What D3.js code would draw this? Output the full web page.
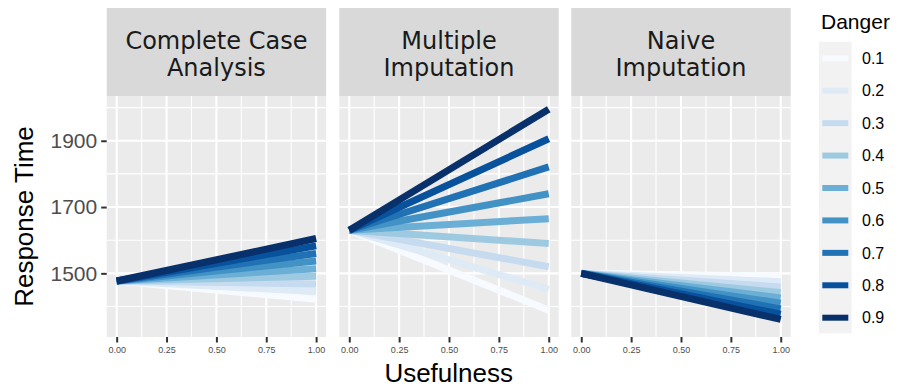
<!DOCTYPE html>
<html>
<head>
<meta charset="utf-8">
<script src="https://cdn.jsdelivr.net/npm/d3@7"></script>
<style>
  html, body { margin: 0; padding: 0; background: #ffffff; }
  svg { display: block; }
</style>
</head>
<body>
<svg id="chart" width="899" height="389"></svg>
<script>
// ---- data ----
const panels = ["Complete Case\nAnalysis", "Multiple\nImputation", "Naive\nImputation"];
const dangerLevels = ["0.1", "0.2", "0.3", "0.4", "0.5", "0.6", "0.7", "0.8", "0.9"];
const colors = ["#f7fbff", "#deebf7", "#c6dbef", "#9ecae1", "#6baed6", "#4292c6", "#2171b5", "#08519c", "#08306b"];
// response time at usefulness = 0 and usefulness = 1, per danger level
const ccaStart = [1477, 1477, 1477, 1477, 1477, 1477, 1477, 1477, 1477];
const ccaEnd   = [1422, 1445, 1468, 1491, 1514, 1537, 1560, 1583, 1605];
const miStart  = [1630, 1630, 1630, 1630, 1630, 1630, 1630, 1630, 1630];
const miEnd    = [1389, 1452, 1520, 1590, 1665, 1740, 1821, 1906, 1995];
const niStart  = [1500, 1500, 1500, 1500, 1500, 1500, 1500, 1500, 1500];
const niEnd    = [1491, 1475, 1459, 1442, 1426, 1410, 1393, 1377, 1361];
const usefulness = [0, 1];
const xTicks = [0, 0.25, 0.5, 0.75, 1];
const xMinor = [0.125, 0.375, 0.625, 0.875];
const yTicks = [1500, 1700, 1900];
const yMinor = [1400, 1600, 1800, 2000];

const series = [
  [ccaStart, ccaEnd],
  [miStart, miEnd],
  [niStart, niEnd]
];

// ---- layout ----
const svg = d3.select("#chart");
const panelLefts = [106.7, 339.3, 571.3];
const panelW = 219.4;
const stripTop = 8, stripBottom = 96, panelBottom = 337;

const y = d3.scaleLinear().domain([1308, 2035]).range([panelBottom, stripBottom]);
const line = d3.line();

panels.forEach((title, pi) => {
  const x0 = panelLefts[pi];
  const x = d3.scaleLinear().domain([-0.05, 1.05]).range([x0, x0 + panelW]);
  const g = svg.append("g");

  // strip
  g.append("rect").attr("x", x0).attr("y", stripTop).attr("width", panelW)
    .attr("height", stripBottom - stripTop).attr("fill", "#d9d9d9");
  title.split("\n").forEach((t, i) => {
    g.append("text").attr("x", x0 + panelW / 2).attr("y", 49 + i * 26.7)
      .attr("text-anchor", "middle").attr("font-family", "DejaVu Sans")
      .attr("font-size", 24).attr("fill", "#1a1a1a").text(t);
  });

  // panel background
  g.append("rect").attr("x", x0).attr("y", stripBottom).attr("width", panelW)
    .attr("height", panelBottom - stripBottom).attr("fill", "#ebebeb");

  // grid
  g.selectAll(".xminor").data(xMinor).join("line")
    .attr("x1", d => x(d)).attr("x2", d => x(d))
    .attr("y1", stripBottom).attr("y2", panelBottom)
    .attr("stroke", "#fff").attr("stroke-width", 1.1);
  g.selectAll(".yminor").data(yMinor).join("line")
    .attr("x1", x0).attr("x2", x0 + panelW)
    .attr("y1", d => y(d)).attr("y2", d => y(d))
    .attr("stroke", "#fff").attr("stroke-width", 1.1);
  g.selectAll(".xmajor").data(xTicks).join("line")
    .attr("x1", d => x(d)).attr("x2", d => x(d))
    .attr("y1", stripBottom).attr("y2", panelBottom)
    .attr("stroke", "#fff").attr("stroke-width", 2.1);
  g.selectAll(".ymajor").data(yTicks).join("line")
    .attr("x1", x0).attr("x2", x0 + panelW)
    .attr("y1", d => y(d)).attr("y2", d => y(d))
    .attr("stroke", "#fff").attr("stroke-width", 2.1);

  // lines
  const [s, e] = series[pi];
  dangerLevels.forEach((lvl, i) => {
    const pts = usefulness.map((u, k) => [x(u), y(k === 0 ? s[i] : e[i])]);
    g.append("path").attr("d", line(pts)).attr("fill", "none")
      .attr("stroke", colors[i]).attr("stroke-width", 7).attr("stroke-linecap", "butt");
  });

  // x axis
  const xAxis = d3.axisBottom(x).tickValues(xTicks).tickFormat(d3.format(".2f"))
    .tickSize(5.5).tickPadding(4);
  const ax = g.append("g").attr("transform", `translate(0,${panelBottom})`).call(xAxis);
  ax.select(".domain").remove();
  ax.selectAll(".tick line").attr("stroke", "#333333").attr("stroke-width", 2);
  ax.selectAll(".tick text").attr("font-family", "Liberation Sans, Arial, sans-serif")
    .attr("font-size", 9).attr("fill", "#4d4d4d");

  if (pi === 0) {
    const yAxis = d3.axisLeft(y).tickValues(yTicks).tickFormat(d3.format("d"))
      .tickSize(5.5).tickPadding(4);
    const ay = g.append("g").attr("transform", `translate(${x0},0)`).call(yAxis);
    ay.select(".domain").remove();
    ay.selectAll(".tick line").attr("stroke", "#333333").attr("stroke-width", 2);
    ay.selectAll(".tick text").attr("font-family", "Liberation Sans, Arial, sans-serif")
      .attr("font-size", 21).attr("fill", "#4d4d4d");
  }
});

// axis titles
svg.append("text").attr("x", (panelLefts[0] + panelLefts[2] + panelW) / 2).attr("y", 382)
  .attr("text-anchor", "middle").attr("font-family", "Liberation Sans, Arial, sans-serif")
  .attr("font-size", 26).attr("fill", "#000").text("Usefulness");
svg.append("text").attr("transform", `translate(33,${(stripBottom + panelBottom) / 2}) rotate(-90)`)
  .attr("text-anchor", "middle").attr("font-family", "Liberation Sans, Arial, sans-serif")
  .attr("font-size", 26).attr("fill", "#000").text("Response Time");

// legend
const lg = svg.append("g");
lg.append("text").attr("x", 821).attr("y", 29).attr("font-family", "Liberation Sans, Arial, sans-serif")
  .attr("font-size", 21).attr("fill", "#000").text("Danger");
const ly = d3.scalePoint().domain(dangerLevels).range([58.3, 317.7]);
lg.append("rect").attr("x", 819).attr("y", 41.7).attr("width", 32.7).attr("height", 291.6)
  .attr("fill", "#f2f2f2");
dangerLevels.forEach((lvl, i) => {
  lg.append("line").attr("x1", 822.3).attr("x2", 848.3)
    .attr("y1", ly(lvl)).attr("y2", ly(lvl))
    .attr("stroke", colors[i]).attr("stroke-width", 6);
  lg.append("text").attr("x", 862).attr("y", ly(lvl)).attr("dy", "0.36em")
    .attr("font-family", "Liberation Sans, Arial, sans-serif").attr("font-size", 16)
    .attr("fill", "#000").text(lvl);
});
</script>
</body>
</html>
